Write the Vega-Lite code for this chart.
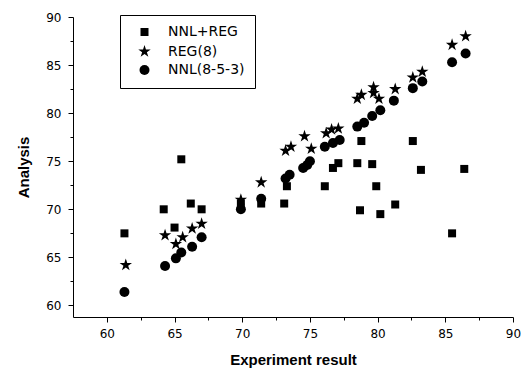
{
  "$schema": "https://vega.github.io/schema/vega-lite/v6.json",
  "autosize": "none",
  "width": 440,
  "height": 300,
  "padding": {"left": 73, "top": 17, "right": 12, "bottom": 56},
  "background": "white",
  "config": {"view": {"stroke": null}, "font": "DejaVu Sans"},
  "data": {"values": [
    {"series": "NNL+REG", "experiment": 61.3, "analysis": 67.5},
    {"series": "NNL+REG", "experiment": 64.2, "analysis": 70.0},
    {"series": "NNL+REG", "experiment": 65.0, "analysis": 68.1},
    {"series": "NNL+REG", "experiment": 65.5, "analysis": 75.2},
    {"series": "NNL+REG", "experiment": 66.2, "analysis": 70.6},
    {"series": "NNL+REG", "experiment": 67.0, "analysis": 70.0},
    {"series": "NNL+REG", "experiment": 69.9, "analysis": 70.6},
    {"series": "NNL+REG", "experiment": 71.4, "analysis": 70.6},
    {"series": "NNL+REG", "experiment": 73.1, "analysis": 70.6},
    {"series": "NNL+REG", "experiment": 73.3, "analysis": 72.4},
    {"series": "NNL+REG", "experiment": 76.1, "analysis": 72.4},
    {"series": "NNL+REG", "experiment": 76.7, "analysis": 74.3},
    {"series": "NNL+REG", "experiment": 77.1, "analysis": 74.8},
    {"series": "NNL+REG", "experiment": 78.8, "analysis": 77.1},
    {"series": "NNL+REG", "experiment": 78.5, "analysis": 74.8},
    {"series": "NNL+REG", "experiment": 79.6, "analysis": 74.7},
    {"series": "NNL+REG", "experiment": 79.9, "analysis": 72.4},
    {"series": "NNL+REG", "experiment": 78.7, "analysis": 69.9},
    {"series": "NNL+REG", "experiment": 80.2, "analysis": 69.5},
    {"series": "NNL+REG", "experiment": 81.3, "analysis": 70.5},
    {"series": "NNL+REG", "experiment": 82.6, "analysis": 77.1},
    {"series": "NNL+REG", "experiment": 83.2, "analysis": 74.1},
    {"series": "NNL+REG", "experiment": 85.5, "analysis": 67.5},
    {"series": "NNL+REG", "experiment": 86.4, "analysis": 74.2},
    {"series": "REG(8)", "experiment": 61.4, "analysis": 64.2},
    {"series": "REG(8)", "experiment": 64.3, "analysis": 67.3},
    {"series": "REG(8)", "experiment": 65.1, "analysis": 66.4},
    {"series": "REG(8)", "experiment": 65.6, "analysis": 67.1},
    {"series": "REG(8)", "experiment": 66.3, "analysis": 68.0},
    {"series": "REG(8)", "experiment": 67.0, "analysis": 68.5},
    {"series": "REG(8)", "experiment": 69.9, "analysis": 71.0},
    {"series": "REG(8)", "experiment": 71.4, "analysis": 72.8},
    {"series": "REG(8)", "experiment": 73.2, "analysis": 76.1},
    {"series": "REG(8)", "experiment": 73.6, "analysis": 76.5},
    {"series": "REG(8)", "experiment": 74.6, "analysis": 77.6},
    {"series": "REG(8)", "experiment": 75.1, "analysis": 76.3},
    {"series": "REG(8)", "experiment": 76.2, "analysis": 77.9},
    {"series": "REG(8)", "experiment": 76.6, "analysis": 78.3},
    {"series": "REG(8)", "experiment": 77.1, "analysis": 78.4},
    {"series": "REG(8)", "experiment": 78.5, "analysis": 81.5},
    {"series": "REG(8)", "experiment": 78.8, "analysis": 81.9},
    {"series": "REG(8)", "experiment": 79.7, "analysis": 82.7},
    {"series": "REG(8)", "experiment": 79.7, "analysis": 82.1},
    {"series": "REG(8)", "experiment": 80.1, "analysis": 81.5},
    {"series": "REG(8)", "experiment": 81.3, "analysis": 82.5},
    {"series": "REG(8)", "experiment": 82.6, "analysis": 83.7},
    {"series": "REG(8)", "experiment": 83.3, "analysis": 84.3},
    {"series": "REG(8)", "experiment": 85.5, "analysis": 87.1},
    {"series": "REG(8)", "experiment": 86.5, "analysis": 88.0},
    {"series": "NNL(8-5-3)", "experiment": 61.3, "analysis": 61.4},
    {"series": "NNL(8-5-3)", "experiment": 64.3, "analysis": 64.1},
    {"series": "NNL(8-5-3)", "experiment": 65.1, "analysis": 64.9},
    {"series": "NNL(8-5-3)", "experiment": 65.5, "analysis": 65.5},
    {"series": "NNL(8-5-3)", "experiment": 66.3, "analysis": 66.1},
    {"series": "NNL(8-5-3)", "experiment": 67.0, "analysis": 67.1},
    {"series": "NNL(8-5-3)", "experiment": 69.9, "analysis": 70.0},
    {"series": "NNL(8-5-3)", "experiment": 71.4, "analysis": 71.1},
    {"series": "NNL(8-5-3)", "experiment": 73.2, "analysis": 73.2},
    {"series": "NNL(8-5-3)", "experiment": 73.5, "analysis": 73.6},
    {"series": "NNL(8-5-3)", "experiment": 74.5, "analysis": 74.3},
    {"series": "NNL(8-5-3)", "experiment": 74.8, "analysis": 74.6},
    {"series": "NNL(8-5-3)", "experiment": 75.0, "analysis": 75.0},
    {"series": "NNL(8-5-3)", "experiment": 76.1, "analysis": 76.5},
    {"series": "NNL(8-5-3)", "experiment": 76.7, "analysis": 76.9},
    {"series": "NNL(8-5-3)", "experiment": 77.2, "analysis": 77.2},
    {"series": "NNL(8-5-3)", "experiment": 78.5, "analysis": 78.6},
    {"series": "NNL(8-5-3)", "experiment": 79.0, "analysis": 79.0},
    {"series": "NNL(8-5-3)", "experiment": 79.6, "analysis": 79.7},
    {"series": "NNL(8-5-3)", "experiment": 80.2, "analysis": 80.3},
    {"series": "NNL(8-5-3)", "experiment": 81.2, "analysis": 81.3},
    {"series": "NNL(8-5-3)", "experiment": 82.6, "analysis": 82.6},
    {"series": "NNL(8-5-3)", "experiment": 83.3, "analysis": 83.3},
    {"series": "NNL(8-5-3)", "experiment": 85.5, "analysis": 85.3},
    {"series": "NNL(8-5-3)", "experiment": 86.5, "analysis": 86.2}
  ]},
  "mark": {"type": "point", "filled": true, "opacity": 1, "color": "black"},
  "encoding": {
    "x": {
      "field": "experiment", "type": "quantitative",
      "scale": {"domain": [57.5, 90], "nice": false, "zero": false},
      "axis": {
        "title": "Experiment result",
        "values": [60, 62.5, 65, 67.5, 70, 72.5, 75, 77.5, 80, 82.5, 85, 87.5, 90],
        "labelExpr": "datum.value % 5 === 0 ? datum.label : ''",
        "tickSize": {"condition": {"test": "datum.value % 5 === 0", "value": 5}, "value": 3},
        "grid": false, "domainColor": "black", "tickColor": "black",
        "labelColor": "black", "labelFontSize": 12, "labelPadding": 6,
        "titleFont": "Liberation Sans", "titleFontWeight": "bold", "titleFontSize": 15,
        "titleColor": "black", "titlePadding": 13, "labelFlush": false
      }
    },
    "y": {
      "field": "analysis", "type": "quantitative",
      "scale": {"domain": [58.8, 90], "nice": false, "zero": false},
      "axis": {
        "title": "Analysis",
        "values": [60, 62.5, 65, 67.5, 70, 72.5, 75, 77.5, 80, 82.5, 85, 87.5, 90],
        "labelExpr": "datum.value % 5 === 0 ? datum.label : ''",
        "tickSize": {"condition": {"test": "datum.value % 5 === 0", "value": 5}, "value": 3},
        "grid": false, "domainColor": "black", "tickColor": "black",
        "labelColor": "black", "labelFontSize": 12, "labelPadding": 7,
        "titleFont": "Liberation Sans", "titleFontWeight": "bold", "titleFontSize": 15,
        "titleColor": "black", "titlePadding": 14, "labelFlush": false
      }
    },
    "shape": {
      "field": "series", "type": "nominal",
      "scale": {
        "domain": ["NNL+REG", "REG(8)", "NNL(8-5-3)"],
        "range": ["square", "M0,-1L0.2245,-0.309L0.951,-0.309L0.363,0.118L0.588,0.809L0,0.382L-0.588,0.809L-0.363,0.118L-0.951,-0.309L-0.2245,-0.309Z", "circle"]
      },
      "legend": {
        "title": null, "orient": "none", "legendX": 47, "legendY": -2,
        "strokeColor": "black", "padding": 10, "rowPadding": 2,
        "labelFont": "DejaVu Sans", "labelFontSize": 14, "labelColor": "black", "labelOffset": 16,
        "symbolFillColor": "black", "symbolStrokeColor": "black", "symbolOffset": 7
      }
    },
    "size": {
      "field": "series", "type": "nominal",
      "scale": {"type": "ordinal", "domain": ["NNL+REG", "REG(8)", "NNL(8-5-3)"], "range": [64, 170, 100]}
    }
  }
}
